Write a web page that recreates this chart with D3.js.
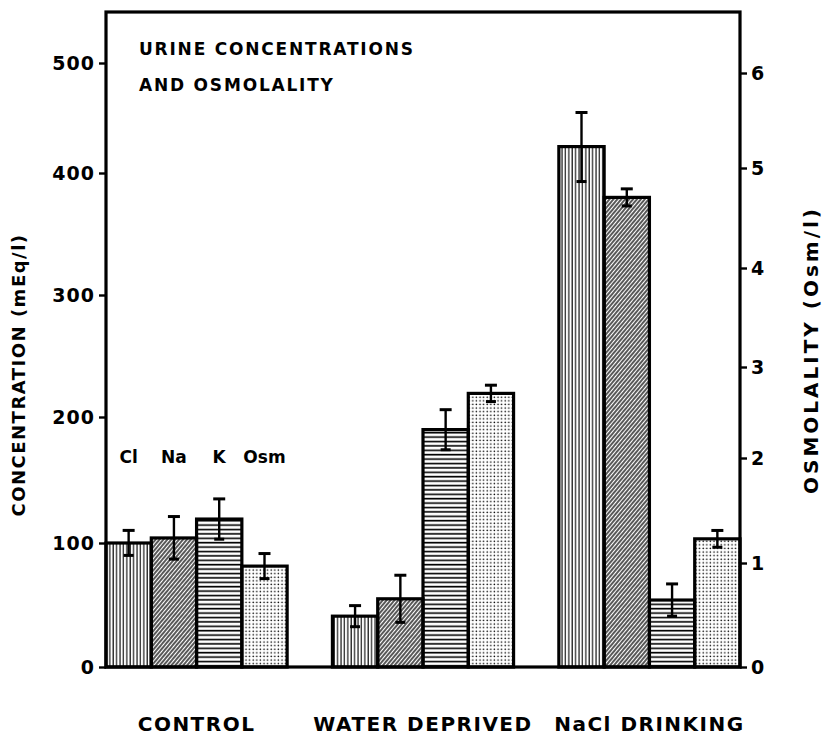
<!DOCTYPE html>
<html>
<head>
<meta charset="utf-8">
<script src="https://cdn.jsdelivr.net/npm/d3@7"></script>
<style>
  body { margin: 0; background: #fff; }
  text { font-family: "DejaVu Sans", sans-serif; font-weight: bold; fill: #000; }
</style>
</head>
<body>
<svg id="chart" width="825" height="742"></svg>
<script>
// groups and series
const groups = ['CONTROL', 'WATER DEPRIVED', 'NaCl DRINKING'];
const series = ['Cl', 'Na', 'K', 'Osm'];

// means and SE per group (mEq/l, Osm in Osm/l)
const clMean = [100, 41, 424];
const clSE = [10, 8.5, 31];
const naMean = [104, 55, 380];
const naSE = [17, 19, 7];
const kMean = [119, 190, 54];
const kSE = [16, 16, 13];
const osmMean = [0.97, 2.71, 1.23];
const osmSE = [0.12, 0.09, 0.08];

const leftTicks = [0, 100, 200, 300, 400, 500];
const rightTicks = [0, 1, 2, 3, 4, 5, 6];

const svg = d3.select('#chart');
const x0 = 106, x1 = 740, yTop = 12, yBase = 667;

// hand-drawn axes are slightly uneven, follow the drawn tick marks
const yLeft = d3.scaleLinear().domain(leftTicks).range([667, 543, 417, 295, 173, 63]);
const yRight = d3.scaleLinear().domain(rightTicks).range([667, 563, 458, 367, 268, 168, 73]);

const xGroup = d3.scaleBand().domain(groups).range([x0, x1]).paddingInner(0.2).paddingOuter(0);
const xSeries = d3.scaleBand().domain(series).range([0, xGroup.bandwidth()]);

// patterns
const defs = svg.append('defs');
const pCl = defs.append('pattern').attr('id', 'p-Cl').attr('patternUnits', 'userSpaceOnUse')
  .attr('width', 3.4).attr('height', 10);
pCl.append('line').attr('x1', 1).attr('x2', 1).attr('y1', 0).attr('y2', 10)
  .attr('stroke', '#000').attr('stroke-width', 1.1);

const pNa = defs.append('pattern').attr('id', 'p-Na').attr('patternUnits', 'userSpaceOnUse')
  .attr('width', 3).attr('height', 10).attr('patternTransform', 'rotate(40)');
pNa.append('line').attr('x1', 1).attr('x2', 1).attr('y1', 0).attr('y2', 10)
  .attr('stroke', '#000').attr('stroke-width', 1.3);

const pK = defs.append('pattern').attr('id', 'p-K').attr('patternUnits', 'userSpaceOnUse')
  .attr('width', 10).attr('height', 4.4);
pK.append('line').attr('x1', 0).attr('x2', 10).attr('y1', 1.5).attr('y2', 1.5)
  .attr('stroke', '#000').attr('stroke-width', 1.6);

const pOsm = defs.append('pattern').attr('id', 'p-Osm').attr('patternUnits', 'userSpaceOnUse')
  .attr('width', 3.6).attr('height', 3.6);
pOsm.append('circle').attr('cx', 1.2).attr('cy', 1.2).attr('r', 0.8).attr('fill', '#000');

// flatten data
const means = { Cl: clMean, Na: naMean, K: kMean, Osm: osmMean };
const ses = { Cl: clSE, Na: naSE, K: kSE, Osm: osmSE };
const rows = [];
groups.forEach((g, i) => {
  series.forEach((s) => {
    rows.push({ group: g, key: s, mean: means[s][i], se: ses[s][i], y: s === 'Osm' ? yRight : yLeft });
  });
});

// bars
svg.append('g')
  .selectAll('rect')
  .data(rows)
  .join('rect')
  .attr('x', (d) => xGroup(d.group) + xSeries(d.key))
  .attr('y', (d) => d.y(d.mean))
  .attr('width', xSeries.bandwidth())
  .attr('height', (d) => yBase - d.y(d.mean))
  .attr('fill', (d) => `url(#p-${d.key})`)
  .attr('stroke', '#000')
  .attr('stroke-width', 3.2);

// error bars
const err = svg.append('g').attr('stroke', '#000').attr('stroke-linecap', 'butt');
rows.forEach((d) => {
  const cx = xGroup(d.group) + xSeries(d.key) + xSeries.bandwidth() / 2;
  const hi = d.y(d.mean + d.se);
  const lo = d.y(d.mean - d.se);
  err.append('line').attr('x1', cx).attr('x2', cx).attr('y1', hi).attr('y2', lo).attr('stroke-width', 2.4);
  err.append('line').attr('x1', cx - 6).attr('x2', cx + 6).attr('y1', hi).attr('y2', hi).attr('stroke-width', 3);
  err.append('line').attr('x1', cx - 5).attr('x2', cx + 5).attr('y1', lo).attr('y2', lo).attr('stroke-width', 3);
});

// frame
svg.append('rect')
  .attr('x', x0).attr('y', yTop).attr('width', x1 - x0).attr('height', yBase - yTop)
  .attr('fill', 'none').attr('stroke', '#000').attr('stroke-width', 3.2);

// axes
const axL = svg.append('g')
  .attr('transform', `translate(${x0},0)`)
  .call(d3.axisLeft(yLeft).tickValues(leftTicks).tickFormat(d3.format('d')).tickSize(7).tickPadding(4));
const axR = svg.append('g')
  .attr('transform', `translate(${x1},0)`)
  .call(d3.axisRight(yRight).tickValues(rightTicks).tickFormat(d3.format('d')).tickSize(7).tickPadding(4));
[axL, axR].forEach((ax) => {
  ax.select('.domain').remove();
  ax.selectAll('line').attr('stroke', '#000').attr('stroke-width', 2.4);
  ax.selectAll('text')
    .style('font-family', '"DejaVu Sans", sans-serif')
    .style('font-weight', 'bold')
    .style('font-size', '19px')
    .attr('fill', '#000');
});
axL.selectAll('text').style('letter-spacing', '1px');

// axis titles
svg.append('text')
  .attr('transform', 'translate(25,375) rotate(-90)')
  .attr('text-anchor', 'middle')
  .style('font-size', '18px')
  .style('letter-spacing', '1.5px')
  .text('CONCENTRATION  (mEq/l)');
svg.append('text')
  .attr('transform', 'translate(818,350) rotate(-90)')
  .attr('text-anchor', 'middle')
  .style('font-size', '20px')
  .style('letter-spacing', '3px')
  .text('OSMOLALITY  (Osm/l)');

// title
svg.append('text').attr('x', 139).attr('y', 55)
  .style('font-size', '17px').style('letter-spacing', '1.8px')
  .text('URINE  CONCENTRATIONS');
svg.append('text').attr('x', 139).attr('y', 91)
  .style('font-size', '17px').style('letter-spacing', '1.8px')
  .text('AND  OSMOLALITY');

// series labels above control group
svg.append('g')
  .selectAll('text')
  .data(series)
  .join('text')
  .attr('x', (s) => xGroup(groups[0]) + xSeries(s) + xSeries.bandwidth() / 2)
  .attr('y', 463)
  .attr('text-anchor', 'middle')
  .style('font-size', '17px')
  .text((s) => s);

// group labels
svg.append('g')
  .selectAll('text')
  .data(groups)
  .join('text')
  .attr('x', (g) => xGroup(g) + xGroup.bandwidth() / 2)
  .attr('y', 731)
  .attr('text-anchor', 'middle')
  .style('font-size', '20px')
  .style('letter-spacing', '1.5px')
  .text((g) => g.replace('WATER ', 'WATER  '));
</script>
</body>
</html>
